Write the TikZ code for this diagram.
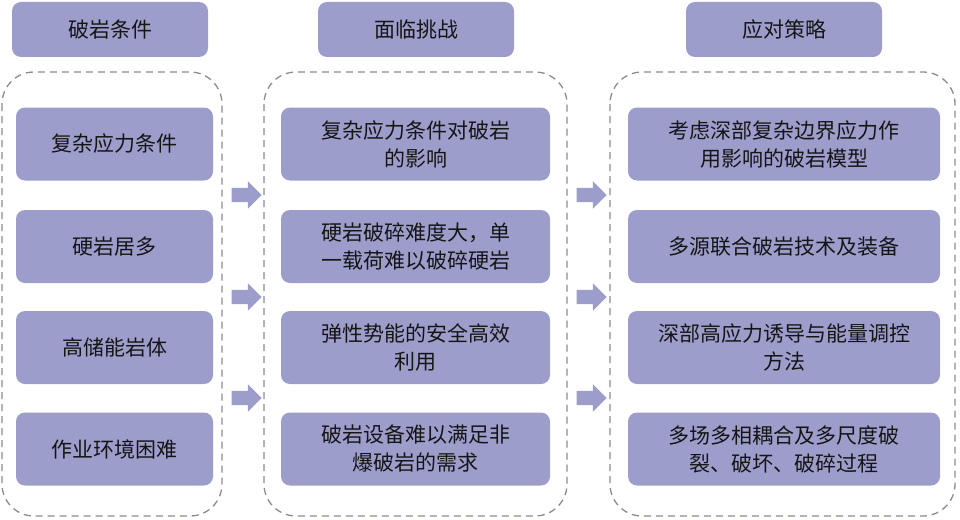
\documentclass[tikz,border=0pt]{standalone}
\usepackage{fontspec}
\setmainfont{Noto Sans CJK SC}
\usetikzlibrary{shapes.arrows}
\definecolor{boxfill}{HTML}{9D9DCC}
\definecolor{dashgray}{HTML}{8A8A96}
\definecolor{txt}{HTML}{151515}
\begin{document}
\begin{tikzpicture}[x=1pt,y=-1pt,
  hdr/.style={fill=boxfill,rounded corners=9pt,minimum width=196pt,minimum height=55pt,inner sep=0pt,text=txt,font=\fontsize{21}{27}\selectfont},
  item/.style={fill=boxfill,rounded corners=9pt,minimum height=73pt,inner sep=0pt,text=txt,align=center,font=\fontsize{21}{28}\selectfont},
  frame/.style={draw=dashgray,dash pattern=on 7pt off 5pt,line width=1.3pt,rounded corners=32pt},
  blockarrow/.style={single arrow,fill=boxfill,minimum height=30pt,minimum width=27pt,inner xsep=0pt,inner ysep=7pt,single arrow head extend=6.5pt,single arrow tip angle=90}]
\useasboundingbox (0,0) rectangle (960,519);
% frames
\draw[frame] (2,72) rectangle (222,516);
\draw[frame] (264,72) rectangle (567,516);
\draw[frame] (610,72) rectangle (955,516);
% headers
\node[hdr] (h1) at (110,29.5) {破岩条件};
\node[hdr] (h2) at (416,29.5) {面临挑战};
\node[hdr] (h3) at (784,29.5) {应对策略};
% column 1
\node[item,minimum width=197pt] (a1) at (114.5,144) {复杂应力条件};
\node[item,minimum width=197pt] (a2) at (114.5,246.5) {硬岩居多};
\node[item,minimum width=197pt] (a3) at (114.5,347.5) {高储能岩体};
\node[item,minimum width=197pt] (a4) at (114.5,449) {作业环境困难};
% column 2
\node[item,minimum width=269pt] (b1) at (415.5,144) {复杂应力条件对破岩\\的影响};
\node[item,minimum width=269pt] (b2) at (415.5,246.5) {硬岩破碎难度大，单\\一载荷难以破碎硬岩};
\node[item,minimum width=269pt] (b3) at (415.5,347.5) {弹性势能的安全高效\\利用};
\node[item,minimum width=269pt] (b4) at (415.5,449) {破岩设备难以满足非\\爆破岩的需求};
% column 3
\node[item,minimum width=312pt] (c1) at (784,144) {考虑深部复杂边界应力作\\用影响的破岩模型};
\node[item,minimum width=312pt] (c2) at (784,246.5) {多源联合破岩技术及装备};
\node[item,minimum width=312pt] (c3) at (784,347.5) {深部高应力诱导与能量调控\\方法};
\node[item,minimum width=312pt] (c4) at (784,449) {多场多相耦合及多尺度破\\裂、破坏、破碎过程};
% arrows
\node[blockarrow] (p1) at (243,195) {};
\node[blockarrow] (p2) at (243,297) {};
\node[blockarrow] (p3) at (243,398) {};
\node[blockarrow] (q1) at (588,195) {};
\node[blockarrow] (q2) at (588,297) {};
\node[blockarrow] (q3) at (588,398) {};
\end{tikzpicture}
\end{document}
